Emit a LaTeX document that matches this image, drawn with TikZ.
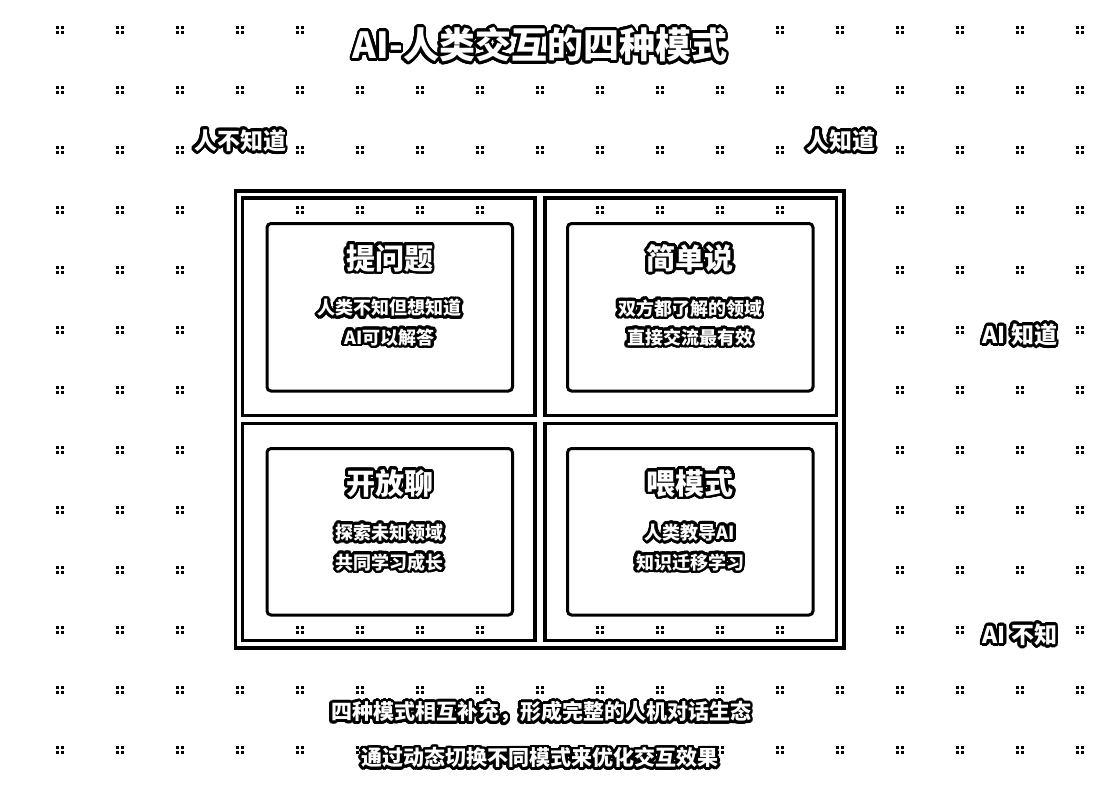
\documentclass[tikz,border=0pt]{standalone}
\usepackage{fontspec}
\newfontfamily\cjk{Noto Sans CJK SC}
\usepackage{contour}
\contourlength{2.7pt}
\contournumber{32}
\tikzset{
  halo/.style={text=white, inner sep=0pt, font=\cjk\bfseries},
  frameline/.style={draw=black, line width=3.3pt},
  modebox/.style={draw=black, line width=3pt, fill=white, rounded corners=4pt},
  gdot/.style={fill=black},
}
\newcommand{\griddot}[2]{%
  \fill[gdot] (#1-4.2,#2-4.2) rectangle ++(3.4,3.4);
  \fill[gdot] (#1+0.8,#2-4.2) rectangle ++(3.4,3.4);
  \fill[gdot] (#1-4.2,#2+0.8) rectangle ++(3.4,3.4);
  \fill[gdot] (#1+0.8,#2+0.8) rectangle ++(3.4,3.4);}
\newcommand{\fsz}[1]{\fontsize{#1}{#1}\selectfont}
\begin{document}
\begin{tikzpicture}[x=1pt,y=-1pt]
\useasboundingbox[fill=white] (0,0) rectangle (1105,793);
% dot grid
\foreach \xx in {60,120,180,240,300,780,840,900,960,1020,1080} {\griddot{\xx}{30}}
\foreach \xx in {60,120,...,1080} {\griddot{\xx}{90}}
\foreach \xx in {60,120,180,300,360,420,480,540,600,660,720,780,900,960,1020,1080} {\griddot{\xx}{150}}
\foreach \xx in {60,120,180,300,360,420,480,600,660,720,780,900,960,1020,1080} {\griddot{\xx}{210}}
\foreach \yy in {270,390,450,510,570} {
  \foreach \xx in {60,120,180,900,960,1020,1080} {\griddot{\xx}{\yy}}}
\foreach \xx in {60,120,180,900,960,1080} {\griddot{\xx}{330}}
\foreach \xx in {60,120,180,300,360,420,480,600,660,720,780,900,960,1080} {\griddot{\xx}{630}}
\foreach \xx in {60,120,...,1080} {\griddot{\xx}{690}}
\foreach \xx in {60,120,180,240,300,360,720,780,840,900,960,1020,1080} {\griddot{\xx}{750}}
% frames
\draw[frameline] (235.5,191) rectangle (844,648);
\draw[frameline] (242.5,198) rectangle (535,415.5);
\draw[frameline] (545,198) rectangle (836.5,415.5);
\draw[frameline] (242.5,423.5) rectangle (535,640.5);
\draw[frameline] (545,423.5) rectangle (836.5,640.5);
% mode boxes
\node[modebox, minimum width=245.5pt, minimum height=167.5pt] (boxTL) at (389.75,307.25) {};
\node[modebox, minimum width=245.5pt, minimum height=167.5pt] (boxTR) at (690.25,307.25) {};
\node[modebox, minimum width=245.5pt, minimum height=166.5pt] (boxBL) at (389.75,531.75) {};
\node[modebox, minimum width=245.5pt, minimum height=166.5pt] (boxBR) at (690.25,531.75) {};
% title
\node[halo, font=\cjk\bfseries\fsz{36}] (title) at (540,46) {\contour{black}{AI-人类交互的四种模式}};
% axis labels
\node[halo, font=\cjk\bfseries\fsz{23}] (hno) at (240,142) {\contour{black}{人不知道}};
\node[halo, font=\cjk\bfseries\fsz{23}] (hyes) at (841,142) {\contour{black}{人知道}};
\node[halo, font=\cjk\bfseries\fsz{23}] (aiyes) at (1020,336) {\contour{black}{AI 知道}};
\node[halo, font=\cjk\bfseries\fsz{23}] (aino) at (1020,636) {\contour{black}{AI 不知}};
% box texts
\node[halo, font=\cjk\bfseries\fsz{29}] (tTL) at (389.5,259.5) {\contour{black}{提问题}};
\node[halo, font=\cjk\bfseries\fsz{18}] (aTL) at (389.5,309.5) {\contour{black}{人类不知但想知道}};
\node[halo, font=\cjk\bfseries\fsz{18}] (bTL) at (389.5,338.5) {\contour{black}{AI可以解答}};
\node[halo, font=\cjk\bfseries\fsz{29}] (tTR) at (690,259.5) {\contour{black}{简单说}};
\node[halo, font=\cjk\bfseries\fsz{18}] (aTR) at (690,309.5) {\contour{black}{双方都了解的领域}};
\node[halo, font=\cjk\bfseries\fsz{18}] (bTR) at (690,338.5) {\contour{black}{直接交流最有效}};
\node[halo, font=\cjk\bfseries\fsz{29}] (tBL) at (389.5,484.5) {\contour{black}{开放聊}};
\node[halo, font=\cjk\bfseries\fsz{18}] (aBL) at (389.5,534) {\contour{black}{探索未知领域}};
\node[halo, font=\cjk\bfseries\fsz{18}] (bBL) at (389.5,563.5) {\contour{black}{共同学习成长}};
\node[halo, font=\cjk\bfseries\fsz{29}] (tBR) at (690,484.5) {\contour{black}{喂模式}};
\node[halo, font=\cjk\bfseries\fsz{18}] (aBR) at (690,534) {\contour{black}{人类教导AI}};
\node[halo, font=\cjk\bfseries\fsz{18}] (bBR) at (690,563.5) {\contour{black}{知识迁移学习}};
% footer
\node[halo, font=\cjk\bfseries\fsz{21}] (foot1) at (541,713.5) {\contour{black}{四种模式相互补充，形成完整的人机对话生态}};
\node[halo, font=\cjk\bfseries\fsz{21}] (foot2) at (540,759) {\contour{black}{通过动态切换不同模式来优化交互效果}};
\end{tikzpicture}
\end{document}
